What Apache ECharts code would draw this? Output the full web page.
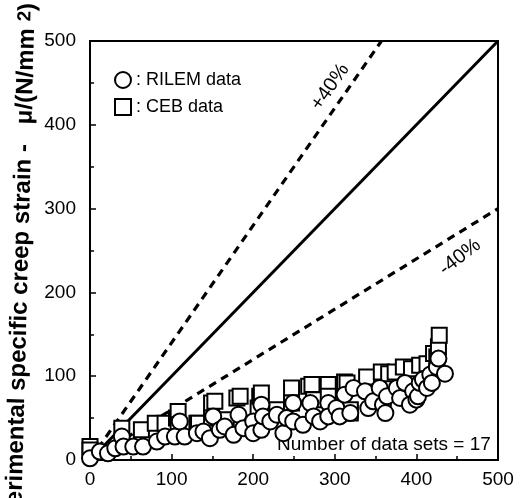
<!DOCTYPE html>
<html>
<head>
<meta charset="utf-8">
<script src="https://cdn.jsdelivr.net/npm/echarts@6/dist/echarts.min.js"></script>
<style>html,body{margin:0;padding:0;background:#fff;}#c{width:524px;height:498px;}</style>
</head>
<body>
<div id="c"></div>
<script>
var xTicks = [0, 100, 200, 300, 400, 500];
var yTicks = [0, 100, 200, 300, 400, 500];

var cebData = [
  [0, 16], [0, 12], [39, 38], [63, 36], [80, 44], [92, 44], [106, 50], [108, 58], [108, 42],
  [131, 44], [133, 44], [149, 68], [153, 70], [149, 50], [167, 48], [180, 74], [184, 76],
  [206, 62], [208, 76], [210, 80], [229, 60], [247, 86], [247, 68], [268, 88], [272, 90],
  [274, 72], [292, 90], [292, 76], [312, 93], [315, 92], [319, 56], [319, 60], [339, 99],
  [357, 105], [366, 103], [374, 105], [384, 111], [394, 109], [404, 113], [413, 115],
  [421, 127], [425, 123], [427, 135], [428, 149]
];

var rilemData = [
  [0, 2], [12, 10], [22, 8], [31, 14], [39, 28], [41, 16], [53, 16], [65, 16], [82, 22],
  [92, 28], [104, 28], [110, 46], [116, 28], [131, 32], [139, 34], [147, 26], [151, 52],
  [159, 36], [165, 40], [176, 30], [182, 54], [188, 38], [200, 46], [200, 32], [210, 36],
  [210, 66], [212, 52], [221, 46], [229, 54], [237, 32], [241, 50], [249, 68], [249, 46],
  [261, 42], [270, 68], [274, 52], [282, 46], [292, 68], [292, 52], [302, 62], [306, 52],
  [312, 78], [319, 56], [323, 86], [337, 82], [341, 62], [347, 70], [355, 86], [359, 66],
  [362, 56], [364, 76], [376, 86], [380, 74], [386, 92], [392, 66], [396, 82], [400, 72],
  [402, 76], [404, 92], [408, 96], [413, 86], [417, 102], [419, 92], [425, 111], [427, 121],
  [435, 103]
];

var equalLine = [[0, 0], [500, 500]];
var plus40Line = [[0, 0], [357.14, 500]];
var minus40Line = [[0, 0], [500, 300]];

var chart = echarts.init(document.getElementById('c'));
var font = 'Liberation Sans, Arial, Helvetica, sans-serif';
var symStyle = { color: '#fff', borderColor: '#000', borderWidth: 2, opacity: 1 };

chart.setOption({
  animation: false,
  backgroundColor: '#fff',
  grid: { left: 90, right: 26, top: 41, bottom: 38, show: true, borderColor: '#000', borderWidth: 2, backgroundColor: 'transparent' },
  xAxis: {
    type: 'value', min: 0, max: 500, interval: 100,
    axisLine: { show: true, lineStyle: { color: '#000', width: 2 } },
    axisTick: { show: true, inside: true, length: 6, lineStyle: { color: '#000', width: 1.5 } },
    minorTick: { show: true, splitNumber: 2, length: 4, lineStyle: { color: '#000', width: 1.5 } },
    splitLine: { show: false },
    axisLabel: { color: '#000', fontFamily: font, fontSize: 19, margin: 10, showMaxLabel: true, showMinLabel: true }
  },
  yAxis: {
    type: 'value', min: 0, max: 500, interval: 100,
    axisLine: { show: true, lineStyle: { color: '#000', width: 2 } },
    axisTick: { show: true, inside: true, length: 6, lineStyle: { color: '#000', width: 1.5 } },
    minorTick: { show: true, splitNumber: 2, length: 4, lineStyle: { color: '#000', width: 1.5 } },
    splitLine: { show: false },
    axisLabel: { color: '#000', fontFamily: font, fontSize: 19, margin: 14 }
  },
  legend: {
    orient: 'vertical', left: 109, top: 66, itemWidth: 16, itemHeight: 16, itemGap: 9,
    textStyle: { color: '#000', fontFamily: font, fontSize: 18 },
    formatter: function (n) { return ': ' + n; },
    data: [{ name: 'RILEM data', icon: 'circle' }, { name: 'CEB data', icon: 'rect' }]
  },
  graphic: [
    {
      type: 'text', x: 28, y: 3, rotation: 88.5 * Math.PI / 180,
      style: {
        text: '{a|Experimental specific creep strain -   \u03bc/(N/mm }{b|2}{a|)}',
        fill: '#000', textAlign: 'right', textVerticalAlign: 'middle',
        rich: {
          a: { fontFamily: font, fontWeight: 'bold', fontSize: 24, fill: '#000', verticalAlign: 'bottom' },
          b: { fontFamily: font, fontWeight: 'bold', fontSize: 19, fill: '#000', verticalAlign: 'top' }
        }
      }
    },
    {
      type: 'text', x: 330, y: 87, rotation: 55 * Math.PI / 180,
      style: { text: '+40%', fill: '#000', font: '20px ' + font, textAlign: 'center', textVerticalAlign: 'middle' }
    },
    {
      type: 'text', x: 460, y: 257, rotation: 38 * Math.PI / 180,
      style: { text: '-40%', fill: '#000', font: '20px ' + font, textAlign: 'center', textVerticalAlign: 'middle' }
    },
    {
      type: 'text', x: 277, y: 445,
      style: { text: 'Number of data sets = 17', fill: '#000', font: '19px ' + font, textAlign: 'left', textVerticalAlign: 'middle' }
    }
  ],
  series: [
    { type: 'line', data: equalLine, symbol: 'none', lineStyle: { color: '#000', width: 3 }, z: 1 },
    { type: 'line', data: plus40Line, symbol: 'none', lineStyle: { color: '#000', width: 3.2, type: [8, 6] }, z: 1 },
    { type: 'line', data: minus40Line, symbol: 'none', lineStyle: { color: '#000', width: 3.2, type: [8, 6] }, z: 1 },
    { name: 'CEB data', type: 'scatter', data: cebData, symbol: 'rect', symbolSize: 15, itemStyle: symStyle, z: 2 },
    { name: 'RILEM data', type: 'scatter', data: rilemData, symbol: 'circle', symbolSize: 16, itemStyle: symStyle, z: 3 }
  ]
});
</script>
</body>
</html>
